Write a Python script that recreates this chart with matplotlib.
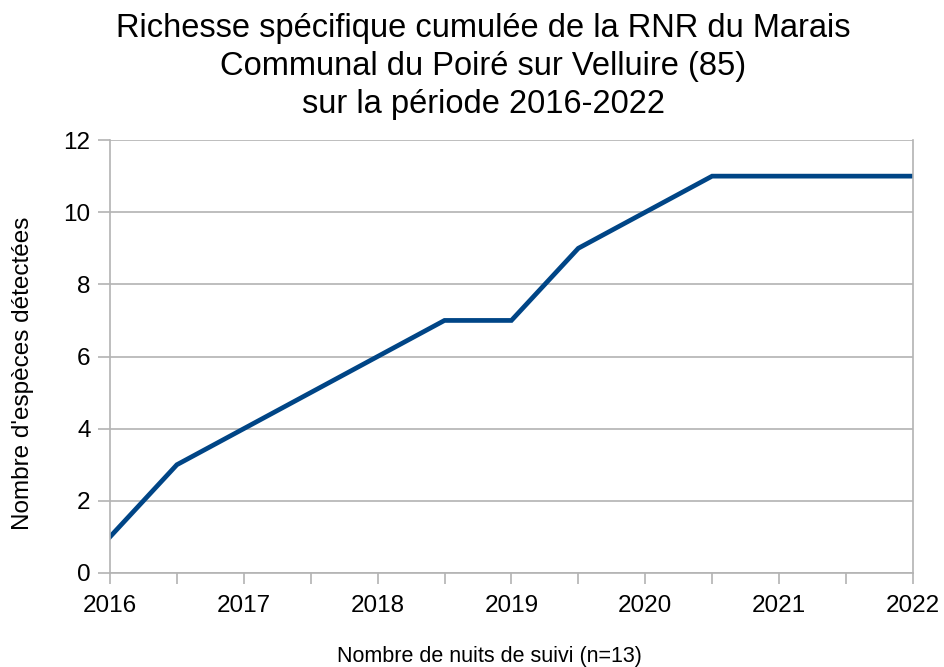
import matplotlib.pyplot as plt

# données : richesse cumulée par nuit de suivi
nuits = list(range(13))
especes = [1, 3, 4, 5, 6, 7, 7, 9, 10, 11, 11, 11, 11]
annees = ['2016', '2017', '2018', '2019', '2020', '2021', '2022']

plt.rcParams['font.family'] = ['Liberation Sans', 'DejaVu Sans']

fig = plt.figure(figsize=(9.44, 6.67), dpi=100)
ax = fig.add_axes([0.1165, 0.141, 0.8505, 0.649])

ax.plot(nuits, especes, color='#004586', linewidth=3.4, solid_joinstyle='miter')

ax.set_xlim(0, 12)
ax.set_ylim(0, 12)
ax.set_yticks(range(0, 13, 2))
ax.set_xticks(range(0, 13, 2))
ax.set_xticklabels(annees)
ax.set_xticks(range(1, 13, 2), minor=True)

ax.grid(axis='y', color='#b3b3b3', linewidth=1.2)
ax.set_axisbelow(True)
for s in ['left', 'right', 'bottom']:
    ax.spines[s].set_color('#b3b3b3')
    ax.spines[s].set_linewidth(1.2)
ax.spines['top'].set_visible(False)

ax.tick_params(axis='x', which='both', length=8, width=1.2, color='#b3b3b3',
               labelsize=17.5, pad=8)
ax.tick_params(axis='y', length=9, width=1.2, color='#b3b3b3', labelsize=17.5, pad=5)

# titres et libellés placés sur la figure
fig.text(0.512, 0.98, 'Richesse spécifique cumulée de la RNR du Marais\n'
         'Communal du Poiré sur Velluire (85)\nsur la période 2016-2022',
         ha='center', va='top', fontsize=23.5, linespacing=1.28)
fig.text(0.518, 0.016, 'Nombre de nuits de suivi (n=13)', ha='center',
         va='center', fontsize=15.5)
fig.text(0.024, 0.441, "Nombre d'espèces détectées", ha='center', va='center',
         rotation=90, fontsize=17.5)

fig.savefig('out.png', dpi=100)
